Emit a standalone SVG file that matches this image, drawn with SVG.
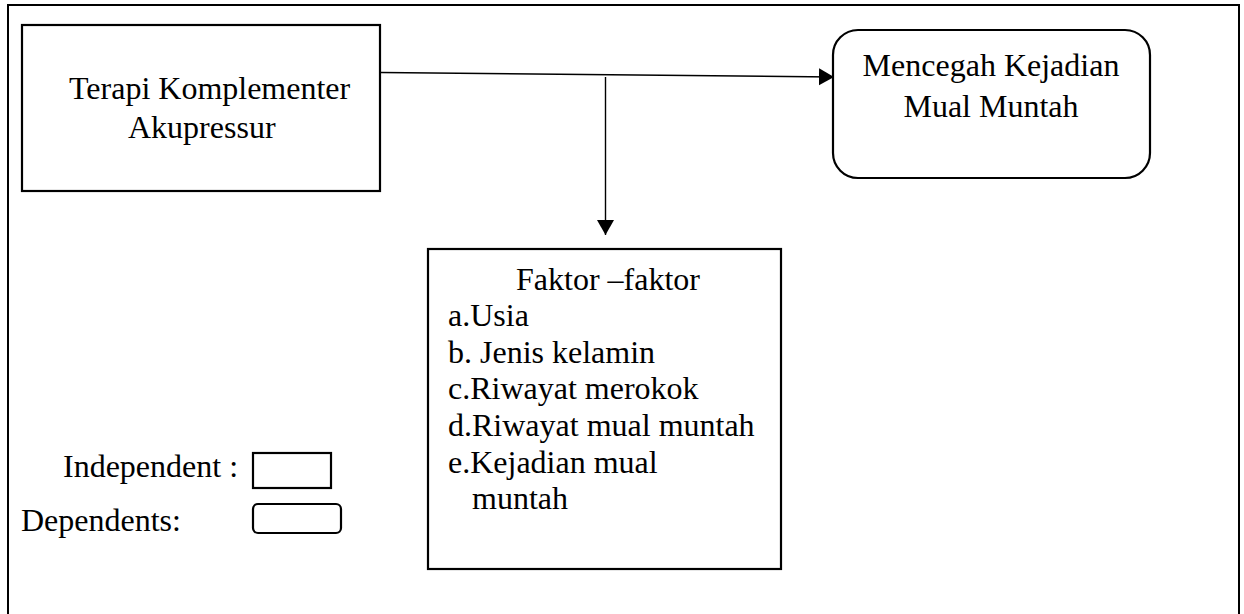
<svg xmlns="http://www.w3.org/2000/svg" width="1244" height="614" viewBox="0 0 1244 614">
<style>
  .box { fill: #ffffff; stroke: #000000; stroke-width: 2.2; }
  .frame { fill: none; stroke: #000000; stroke-width: 2; }
  .t { font-family: "Liberation Serif", "Times New Roman", serif; font-size: 32px; fill: #000000; }
  .conn { stroke: #000000; stroke-width: 1.4; fill: none; }
</style>
<defs>
  <marker id="arrow" markerUnits="userSpaceOnUse" markerWidth="16" markerHeight="18" refX="15" refY="8.5" orient="auto">
    <path d="M0,0 L15,8.5 L0,17 Z" fill="#000000"/>
  </marker>
</defs>
<rect fill="#ffffff" x="0" y="0" width="1244" height="614"/>
<path class="frame" d="M8,620 L8,5 L1239,5 L1239,620"/>

<g id="node-terapi">
  <rect class="box" x="22" y="25" width="358" height="166"/>
  <text class="t" x="69" y="99">Terapi Komplementer</text>
  <text class="t" x="128" y="138">Akupressur</text>
</g>

<g id="node-mencegah">
  <rect class="box" x="833" y="30" width="317" height="148" rx="25" ry="25"/>
  <text class="t" x="991" y="76" text-anchor="middle">Mencegah Kejadian</text>
  <text class="t" x="991" y="117" text-anchor="middle">Mual Muntah</text>
</g>

<g id="node-faktor">
  <rect class="box" x="428" y="249" width="353" height="320"/>
  <text class="t" x="516" y="290">Faktor –faktor</text>
  <text class="t" x="448" y="326">a.Usia</text>
  <text class="t" x="448" y="363">b. Jenis kelamin</text>
  <text class="t" x="448" y="399">c.Riwayat merokok</text>
  <text class="t" x="448" y="436">d.Riwayat mual muntah</text>
  <text class="t" x="448" y="473">e.Kejadian mual</text>
  <text class="t" x="472" y="509">muntah</text>
</g>

<g id="legend-independent">
  <text class="t" x="63" y="477">Independent :</text>
  <rect class="box" x="253" y="453" width="78" height="35"/>
</g>

<g id="legend-dependent">
  <text class="t" x="21" y="531">Dependents:</text>
  <rect class="box" x="253" y="504" width="88" height="29" rx="5" ry="5"/>
</g>

<g id="connectors">
  <line class="conn" x1="381" y1="72.5" x2="834" y2="77" marker-end="url(#arrow)"/>
  <line class="conn" x1="605.5" y1="77" x2="605.5" y2="235" marker-end="url(#arrow)"/>
</g>
</svg>
